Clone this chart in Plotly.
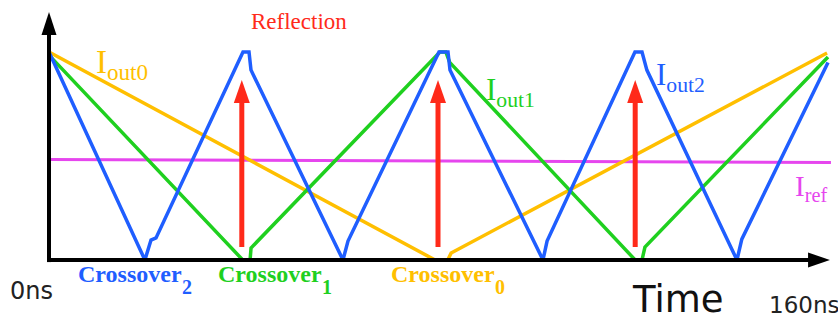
import plotly.graph_objects as go

# ---- data (time in ns, current normalised 0..1) ----
blue_t = [0, 19.7, 20.95, 21.98, 39.84, 41.08, 41.49, 60.38, 61.41, 80.1, 81.95, 82.36,
          101.46, 102.3, 120.35, 121.8, 122.8, 141.3, 142.3, 160]
blue_i = [1.0, 0.0, 0.096, 0.106, 1.0, 1.0, 0.913, 0.0, 0.091, 1.0, 1.0, 0.913,
          0.0, 0.091, 1.0, 1.0, 0.913, 0.0, 0.10, 0.95]
green_t = [0, 39.8, 41.3, 41.5, 80.3, 81.5, 82.3, 120.4, 121.8, 122.4, 160]
green_i = [0.985, 0.0, 0.0, 0.058, 1.0, 1.0, 0.95, 0.0, 0.0, 0.0625, 0.976]
yellow_t = [0, 79.3, 81.9, 82.6, 159.8]
yellow_i = [1.0, 0.0, 0.0, 0.034, 0.995]
iref_t = [0, 160.6]
iref_i = [0.483, 0.469]
reflection_t = [39.6, 79.9, 120.4]
crossover_names = ["Crossover", "Crossover", "Crossover"]
crossover_subs = ["2", "1", "0"]
crossover_t = [5.5, 34.2, 69.9]

BLUE = "#1f5eff"
GREEN = "#1fd01f"
YELLOW = "#ffbf00"
MAGENTA = "#e646ee"
RED = "#ff2a1a"

W, H = 838, 325
X0PX, X1PX = 49, 828
PXNS = (X1PX - X0PX) / 160.0
Y0PX, Y1PX = 260, 52
PXU = (Y0PX - Y1PX) / 1.0
xr = [-X0PX / PXNS, 160 + (W - X1PX) / PXNS]
yr = [-(H - Y0PX) / PXU, 1 + Y1PX / PXU]

fig = go.Figure()
lw = 3.5
fig.add_trace(go.Scatter(x=iref_t, y=iref_i, mode="lines", line=dict(color=MAGENTA, width=3)))
fig.add_trace(go.Scatter(x=yellow_t, y=yellow_i, mode="lines", line=dict(color=YELLOW, width=lw)))
fig.add_trace(go.Scatter(x=green_t, y=green_i, mode="lines", line=dict(color=GREEN, width=lw)))
fig.add_trace(go.Scatter(x=blue_t, y=blue_i, mode="lines", line=dict(color=BLUE, width=lw)))

shapes = []
# reflection arrows
for t in reflection_t:
    y_bot, y_base, y_tip = 0.0625, 0.755, 0.865
    hw = 8 / PXNS
    shapes.append(dict(type="line", xref="x", yref="y", x0=t, x1=t, y0=y_bot, y1=y_base + 0.01,
                       line=dict(color=RED, width=5)))
    shapes.append(dict(type="path", xref="x", yref="y",
                       path=f"M {t-hw},{y_base} L {t+hw},{y_base} L {t},{y_tip} Z",
                       fillcolor=RED, line=dict(color=RED, width=0)))
# axes
shapes.append(dict(type="line", xref="x", yref="y", x0=0, x1=0, y0=-0.01, y1=1.09,
                   line=dict(color="black", width=4)))
hw = 7.5 / PXNS
shapes.append(dict(type="path", xref="x", yref="y",
                   path=f"M {-hw},1.082 L {hw},1.082 L 0,1.192 Z",
                   fillcolor="black", line=dict(color="black", width=0)))
shapes.append(dict(type="line", xref="x", yref="y", x0=-0.4, x1=156.5, y0=0, y1=0,
                   line=dict(color="black", width=4)))
hh = 7.5 / PXU
shapes.append(dict(type="path", xref="x", yref="y",
                   path=f"M 155.9,{-hh} L 155.9,{hh} L 160.4,0 Z",
                   fillcolor="black", line=dict(color="black", width=0)))

ann = []
SERIF = "Liberation Serif"
SANS = "DejaVu Sans"
ann.append(dict(x=51.25, y=1.149, text="Reflection", font=dict(family=SERIF, size=23, color=RED),
                xanchor="center", yanchor="middle"))
ann.append(dict(x=9.3, y=0.94, text="I<sub>out0</sub>", font=dict(family=SERIF, size=33, color=YELLOW),
                xanchor="left", yanchor="middle"))
ann.append(dict(x=89.3, y=0.81, text="I<sub>out1</sub>", font=dict(family=SERIF, size=31, color=GREEN),
                xanchor="left", yanchor="middle"))
ann.append(dict(x=124.3, y=0.88, text="I<sub>out2</sub>", font=dict(family=SERIF, size=31, color=BLUE),
                xanchor="left", yanchor="middle"))
ann.append(dict(x=152.9, y=0.345, text="I<sub>ref</sub>", font=dict(family=SERIF, size=29, color=MAGENTA),
                xanchor="left", yanchor="middle"))
colors = [BLUE, GREEN, YELLOW]
for name, sub, t, c in zip(crossover_names, crossover_subs, crossover_t, colors):
    ann.append(dict(x=t, y=-0.068, text=f"<b>{name}</b>", font=dict(family=SERIF, size=24, color=c),
                    xanchor="left", yanchor="middle"))
    ann.append(dict(x=t + 104 / PXNS, y=-0.132, text=f"<b>{sub}</b>", font=dict(family=SERIF, size=20, color=c),
                    xanchor="left", yanchor="middle"))
ann.append(dict(x=-8.4, y=-0.149, text="0ns", font=dict(family=SANS, size=24, color="#222"),
                xanchor="left", yanchor="middle"))
ann.append(dict(x=119.4, y=-0.19, text="Time", font=dict(family=SANS, size=37, color="#111"),
                xanchor="left", yanchor="middle"))
ann.append(dict(x=147.4, y=-0.215, text="160ns", font=dict(family=SANS, size=23, color="#222"),
                xanchor="left", yanchor="middle"))
for a in ann:
    a.update(xref="x", yref="y", showarrow=False)

fig.update_layout(
    width=W, height=H, margin=dict(l=0, r=0, t=0, b=0),
    paper_bgcolor="white", plot_bgcolor="white", showlegend=False,
    xaxis=dict(range=xr, visible=False, fixedrange=True),
    yaxis=dict(range=yr, visible=False, fixedrange=True),
    shapes=shapes, annotations=ann,
)
fig.write_html("out.html", config={"displayModeBar": False},
               post_script="document.body.style.margin='0';document.body.style.overflow='hidden';")
